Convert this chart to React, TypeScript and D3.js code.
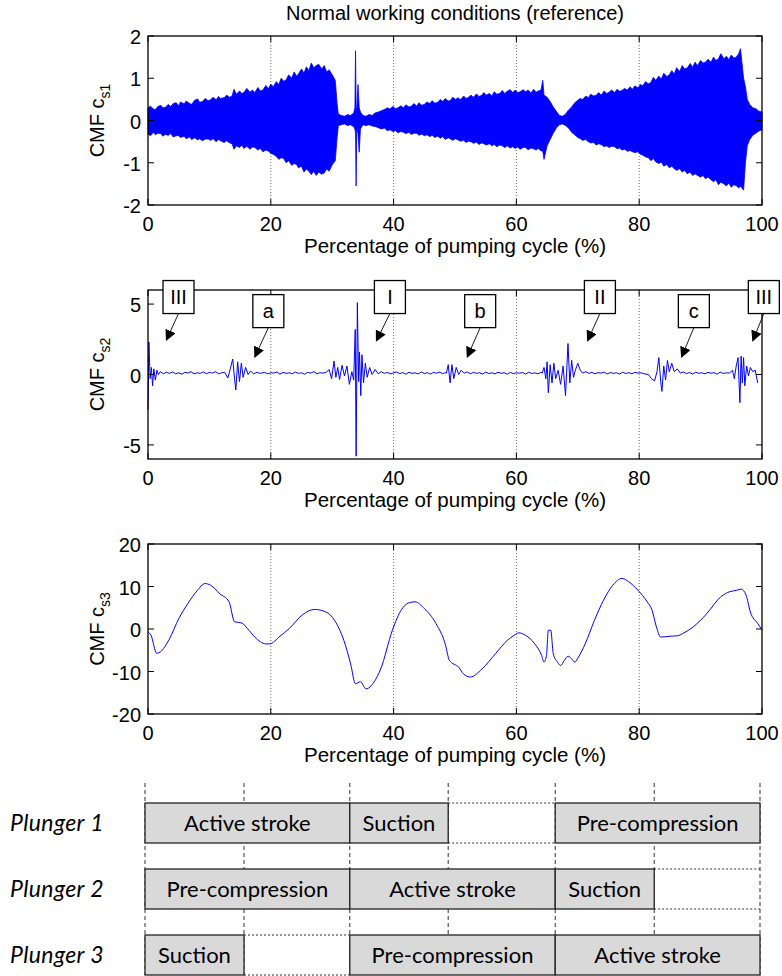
import React from "react";
import * as d3 from "d3";

// ---------- data ----------
const X_TICKS = [0, 20, 40, 60, 80, 100];
const X_GRID = [20, 40, 60, 80];

// c_s1: [position %, upper extent, lower extent] of the fast oscillation
const CS1_ENVELOPE: [number, number, number][] = [
  [0, 0.30, -0.32], [0.4, 0.34, -0.36], [0.9, 0.27, -0.28], [1.2, 0.26, -0.34], [1.6, 0.33, -0.30],
  [2.1, 0.36, -0.31], [2.4, 0.30, -0.37], [2.8, 0.31, -0.33], [3.3, 0.38, -0.35], [3.7, 0.33, -0.31],
  [4.1, 0.40, -0.39], [4.6, 0.42, -0.36], [5, 0.35, -0.36], [5.3, 0.44, -0.40], [5.9, 0.39, -0.37],
  [6.2, 0.46, -0.43], [6.8, 0.40, -0.39], [7.1, 0.38, -0.45], [7.6, 0.48, -0.41], [8.1, 0.51, -0.46],
  [8.4, 0.43, -0.43], [8.9, 0.45, -0.48], [9.3, 0.52, -0.44], [9.8, 0.47, -0.44], [10.2, 0.49, -0.47],
  [10.6, 0.55, -0.43], [11.1, 0.49, -0.50], [11.5, 0.57, -0.45], [11.8, 0.52, -0.48], [12.4, 0.54, -0.52],
  [12.8, 0.60, -0.48], [13.3, 0.55, -0.53], [13.7, 0.58, -0.55], [14, 0.74, -0.68], [14.4, 0.62, -0.60],
  [14.9, 0.70, -0.64], [15.3, 0.64, -0.58], [15.6, 0.66, -0.66], [16.1, 0.76, -0.61], [16.6, 0.67, -0.68],
  [17, 0.72, -0.63], [17.4, 0.66, -0.64], [17.9, 0.78, -0.70], [18.3, 0.70, -0.66], [18.7, 0.72, -0.74],
  [19.2, 0.83, -0.70], [19.6, 0.75, -0.72], [20, 0.86, -0.78], [20.4, 0.80, -0.80], [20.9, 0.92, -0.85],
  [21.3, 0.85, -0.92], [21.7, 1.00, -0.88], [22.1, 0.93, -0.90], [22.5, 0.96, -1.00], [22.9, 1.08, -0.95],
  [23.4, 1.00, -1.06], [23.8, 1.15, -1.02], [24.2, 1.05, -1.04], [24.5, 1.10, -1.12], [25, 1.22, -1.08],
  [25.4, 1.12, -1.22], [25.8, 1.27, -1.15], [26.2, 1.18, -1.20], [26.6, 1.36, -1.28], [27, 1.25, -1.20],
  [27.4, 1.30, -1.30], [27.8, 1.33, -1.22], [28.3, 1.22, -1.27], [28.7, 1.30, -1.24], [29.1, 1.15, -1.15],
  [29.5, 1.20, -1.20], [30, 1.08, -1.05], [30.5, 0.95, -0.95], [30.8, 0.40, -0.40], [31, 0.15, -0.12],
  [31.5, 0.12, -0.10], [32, 0.10, -0.08], [32.5, 0.14, -0.12], [33, 0.12, -0.10], [33.5, 0.18, -0.15],
  [33.7, 0.30, -0.20], [33.8, 1.65, -0.30], [33.9, 0.30, -1.55], [34.0, 0.20, -0.20], [34.2, 0.85, -0.30],
  [34.4, 0.30, -0.75], [34.6, 0.20, -0.20], [35, 0.12, -0.10], [35.5, 0.10, -0.12], [36, 0.14, -0.10],
  [36.5, 0.12, -0.13], [37, 0.18, -0.14], [37.5, 0.20, -0.17], [38, 0.23, -0.20], [38.5, 0.26, -0.18],
  [39, 0.30, -0.24], [39.4, 0.27, -0.22], [39.9, 0.33, -0.26], [40.3, 0.28, -0.24], [40.7, 0.30, -0.29],
  [41.2, 0.35, -0.26], [41.6, 0.30, -0.28], [42, 0.37, -0.31], [42.5, 0.32, -0.28], [42.9, 0.34, -0.33],
  [43.3, 0.40, -0.30], [43.8, 0.34, -0.30], [44.1, 0.42, -0.35], [44.6, 0.36, -0.32], [45, 0.38, -0.36],
  [45.4, 0.44, -0.34], [45.9, 0.40, -0.38], [46.3, 0.47, -0.35], [46.7, 0.41, -0.40], [47.2, 0.43, -0.37],
  [47.6, 0.50, -0.42], [48, 0.45, -0.38], [48.4, 0.52, -0.45], [48.9, 0.46, -0.41], [49.3, 0.48, -0.44],
  [49.6, 0.55, -0.47], [50.1, 0.50, -0.43], [50.5, 0.54, -0.46], [50.9, 0.49, -0.49], [51.4, 0.58, -0.47],
  [51.8, 0.52, -0.52], [52.2, 0.55, -0.49], [52.6, 0.60, -0.50], [53, 0.55, -0.54], [53.5, 0.63, -0.51],
  [53.9, 0.57, -0.57], [54.3, 0.59, -0.53], [54.7, 0.66, -0.55], [55.1, 0.60, -0.58], [55.6, 0.64, -0.55],
  [56, 0.58, -0.60], [56.4, 0.68, -0.57], [56.8, 0.62, -0.62], [57.3, 0.64, -0.58], [57.7, 0.71, -0.60],
  [58.1, 0.64, -0.64], [58.5, 0.69, -0.60], [59, 0.73, -0.65], [59.4, 0.66, -0.62], [59.8, 0.72, -0.66],
  [60.2, 0.66, -0.63], [60.6, 0.68, -0.68], [61.1, 0.73, -0.64], [61.5, 0.68, -0.64], [61.9, 0.72, -0.69],
  [62.4, 0.65, -0.65], [62.8, 0.74, -0.67], [63.2, 0.67, -0.70], [63.6, 0.70, -0.66], [64, 0.72, -0.72],
  [64.3, 0.95, -0.72], [64.5, 0.60, -0.92], [65, 0.55, -0.60], [65.5, 0.45, -0.45], [66, 0.32, -0.30],
  [66.5, 0.22, -0.18], [67, 0.12, -0.10], [67.5, 0.10, -0.08], [68, 0.15, -0.12], [68.5, 0.25, -0.18],
  [69, 0.32, -0.28], [69.5, 0.42, -0.34], [70, 0.48, -0.40], [70.4, 0.52, -0.43], [70.8, 0.50, -0.47],
  [71.3, 0.58, -0.45], [71.7, 0.54, -0.50], [72.1, 0.62, -0.53], [72.6, 0.58, -0.52], [73, 0.60, -0.58],
  [73.4, 0.66, -0.55], [73.8, 0.60, -0.57], [74.3, 0.70, -0.62], [74.7, 0.64, -0.60], [75.1, 0.67, -0.64],
  [75.5, 0.72, -0.61], [76, 0.66, -0.62], [76.4, 0.74, -0.67], [76.8, 0.69, -0.65], [77.2, 0.71, -0.70],
  [77.6, 0.76, -0.68], [78.1, 0.72, -0.73], [78.5, 0.80, -0.71], [78.9, 0.74, -0.74], [79.3, 0.82, -0.76],
  [79.8, 0.77, -0.74], [80.2, 0.85, -0.80], [80.6, 0.82, -0.82], [81, 0.92, -0.86], [81.5, 0.87, -0.88],
  [81.9, 0.90, -0.95], [82.3, 1.02, -0.90], [82.7, 0.95, -0.98], [83.2, 1.05, -1.02], [83.6, 0.98, -0.98],
  [84, 1.12, -1.08], [84.5, 1.04, -1.04], [84.9, 1.08, -1.12], [85.3, 1.18, -1.08], [85.7, 1.10, -1.14],
  [86.1, 1.25, -1.18], [86.6, 1.16, -1.14], [87, 1.30, -1.22], [87.4, 1.22, -1.18], [87.8, 1.24, -1.26],
  [88.3, 1.35, -1.22], [88.7, 1.26, -1.30], [89.1, 1.38, -1.26], [89.5, 1.30, -1.30], [90, 1.42, -1.34],
  [90.4, 1.36, -1.30], [90.8, 1.38, -1.38], [91.2, 1.45, -1.34], [91.7, 1.38, -1.40], [92.1, 1.50, -1.45],
  [92.5, 1.42, -1.40], [92.9, 1.46, -1.52], [93.3, 1.58, -1.46], [93.8, 1.46, -1.50], [94.2, 1.52, -1.55],
  [94.6, 1.44, -1.48], [95, 1.55, -1.58], [95.4, 1.48, -1.52], [95.8, 1.50, -1.54], [96.2, 1.58, -1.60],
  [96.5, 1.70, -1.55], [97, 1.00, -1.65], [97.3, 0.80, -1.00], [97.6, 0.50, -0.60], [98, 0.38, -0.45],
  [98.5, 0.30, -0.35], [99, 0.28, -0.30], [99.5, 0.22, -0.25], [100, 0.20, -0.22],
];

// c_s2 trace
const CS2_X = [0, 0.15, 0.35, 0.55, 0.75, 0.95, 1.2, 1.45, 1.7, 2, 2.5, 3, 3.5, 4, 4.5, 5, 5.5, 6, 6.5, 7, 7.5, 8, 8.5, 9, 9.5, 10, 10.5, 11, 11.5, 12, 12.5, 13, 13.4, 13.8, 14.1, 14.3, 14.6, 14.9, 15.2, 15.5, 15.9, 16.3, 16.7, 17.2, 17.7, 18.3, 19, 19.5, 20, 20.5, 21, 21.5, 22, 22.5, 23, 23.5, 24, 24.5, 25, 25.5, 26, 26.5, 27, 27.5, 28, 28.5, 29, 29.5, 29.9, 30.3, 30.6, 30.9, 31.2, 31.6, 32, 32.4, 32.8, 33.2, 33.5, 33.75, 33.9, 34.1, 34.3, 34.45, 34.65, 34.85, 35.1, 35.4, 35.7, 36.1, 36.5, 37, 37.5, 38, 38.5, 39, 39.5, 40, 40.5, 41, 41.5, 42, 42.5, 43, 43.5, 44, 44.5, 45, 45.5, 46, 46.5, 47, 47.5, 48, 48.3, 48.6, 48.9, 49.2, 49.5, 49.8, 50.2, 50.6, 51, 51.5, 52, 52.5, 53, 53.5, 54, 54.5, 55, 55.5, 56, 56.5, 57, 57.5, 58, 58.5, 59, 59.5, 60, 60.5, 61, 61.5, 62, 62.5, 63, 63.5, 64, 64.2, 64.5, 64.8, 65, 65.2, 65.5, 65.8, 66.1, 66.4, 66.8, 67.2, 67.6, 68, 68.4, 68.7, 69, 69.3, 69.6, 70, 70.4, 70.8, 71.3, 71.8, 72.3, 72.8, 73.3, 73.8, 74.3, 74.8, 75.3, 75.8, 76.3, 76.8, 77.3, 77.8, 78.3, 78.8, 79.3, 79.8, 80.3, 80.8, 81.5, 82, 82.5, 82.9, 83.2, 83.5, 83.7, 84, 84.3, 84.6, 84.9, 85.3, 85.7, 86.2, 86.7, 87.2, 87.7, 88.2, 88.7, 89.2, 89.7, 90.2, 90.7, 91.2, 91.7, 92.2, 92.7, 93.2, 93.7, 94.2, 94.7, 95.2, 95.5, 95.8, 96.1, 96.4, 96.6, 96.8, 97, 97.2, 97.5, 97.8, 98.1, 98.5, 98.9, 99.3, 99.7, 100];
const CS2_Y = [-2.5, 2.3, -0.3, 0.5, -0.8, 0.4, -0.4, 0.3, 0, 0.2, 0.05, 0.15, 0.08, 0.18, 0.05, 0.12, 0.02, 0.15, 0.1, 0.2, 0.05, 0.12, 0.08, 0.18, 0.05, 0.15, 0.1, 0.2, 0.05, 0.12, 0.15, -0.25, 0.4, 1.1, -0.3, -1.1, 0.9, -0.5, 0.8, -0.2, 0.5, 0, 0.25, 0.05, 0.15, 0.08, 0.15, 0.05, 0.12, 0.1, 0.18, 0.02, 0.15, 0.08, 0.12, 0.05, 0.18, 0.08, 0.12, 0.02, 0.15, 0.1, 0.2, 0.05, 0.12, 0.1, 0.15, 0.35, -0.3, 0.95, -0.2, 0.5, -0.35, 0.65, -0.1, 0.6, -0.7, 0.2, -0.4, 3.2, -5.8, 5.1, -0.5, 1.6, -1.5, 1.4, -0.6, 0.8, -0.2, 0.5, 0, 0.35, 0.05, 0.2, 0.08, 0.15, 0.05, 0.12, 0.18, 0.06, 0.14, 0.02, 0.16, 0.08, 0.12, 0.04, 0.18, 0.07, 0.13, 0.03, 0.15, 0.09, 0.17, 0.05, 0.12, 0.1, 0.7, -0.6, 0.7, -0.3, 0.5, 0, 0.3, 0.1, 0.18, 0.05, 0.15, 0.08, 0.13, 0.03, 0.17, 0.07, 0.12, 0.04, 0.16, 0.08, 0.13, 0.02, 0.15, 0.06, 0.12, 0.09, 0.14, 0.03, 0.16, 0.07, 0.12, 0.05, 0.15, 0.1, 0.5, -0.3, 0.9, -1.3, 0.7, -0.6, 0.8, -0.3, 0.3, -0.7, 0.6, -1.5, 2.2, -0.6, 1, -0.2, 0.3, 0.8, 0.3, 0.1, 0.2, 0.08, 0.15, 0.05, 0.13, 0.1, 0.17, 0.04, 0.14, 0.08, 0.12, 0.03, 0.16, 0.07, 0.13, 0.05, 0.15, 0.1, 0.12, 0.05, 0, -0.3, -0.45, 0.2, 1.2, -0.5, -1.2, 0.6, -0.4, 1, 0.2, 0.8, 0.2, 0.4, 0.1, 0.18, 0.06, 0.14, 0.03, 0.16, 0.08, 0.12, 0.05, 0.15, 0.09, 0.13, 0.02, 0.17, 0.07, 0.12, 0.1, 0.3, -0.3, 0.6, 1.2, -2, 1.3, -0.6, 1.2, -0.8, 0.6, -0.1, 0.5, 0.2, 0.3, -0.6];

// c_s3 trace
const CS3_X = [0, 0.5, 1.4, 2, 3.5, 5, 6.5, 8, 9.3, 10.2, 11.7, 13.2, 14.1, 15.3, 16.2, 17.4, 19.2, 19.8, 21.5, 23, 25.2, 27.1, 29, 30.4, 31.9, 33, 33.8, 34.6, 35.5, 36.8, 37.9, 39.8, 41.3, 42.4, 43.5, 45, 46.9, 48.4, 49.1, 50.6, 51.4, 52.5, 54.4, 56.6, 58.5, 59.6, 60.4, 61.5, 63, 64.1, 64.5, 64.9, 65.2, 65.6, 66, 66.7, 67.2, 67.8, 68.4, 69, 69.5, 70.1, 71.2, 72.7, 74.2, 75.7, 77.2, 78.3, 79.8, 81.3, 82.1, 82.8, 83.5, 85, 86.2, 87.3, 88.8, 91, 93.3, 94.8, 95.9, 96.6, 97.4, 98.1, 99.3, 100];
const CS3_Y = [-0.7, -1.5, -5.7, -5.4, -2.3, 2.4, 6, 9, 10.7, 10.3, 8.3, 6.4, 1.7, 1.4, 0.1, -1.9, -3.5, -3.5, -1.7, 0.1, 3.4, 4.6, 4, 2, -2.7, -8.2, -12.9, -12.4, -14.1, -12.5, -9.4, -0.3, 4.6, 6.1, 6.4, 4.8, 1.3, -3.5, -7.4, -9, -10.6, -11.3, -9.4, -5.8, -2.7, -1.5, -0.9, -1.5, -3.5, -6.2, -7.8, -6.2, -0.3, -0.3, -5.8, -7.8, -8.6, -7.4, -6.4, -7, -7.8, -6.6, -3.5, 2, 6.8, 10.3, 11.9, 11.1, 9.1, 6.4, 4.4, 0.5, -1.9, -1.7, -1.6, -0.9, 0.5, 3.6, 7.6, 8.8, 9.1, 9.4, 8, 4, 1.3, -0.2];

// event markers on c_s2
const MARK_LABELS = ["III", "a", "I", "b", "II", "c", "III"];
const MARK_BOX_X = [4.97, 19.6, 39.4, 54.1, 73.6, 88.9, 100.3];
const MARK_BOX_Y = [5.5, 4.5, 5.5, 4.5, 5.5, 4.5, 5.5];
const MARK_TIP_X = [3.0, 17.4, 37.2, 52.0, 71.6, 86.9, 98.5];
const MARK_TIP_Y = [2.45, 1.24, 2.39, 1.24, 2.39, 1.24, 2.39];

// plunger timing diagram
const PHASE_BOUNDS = [0, 16.1, 33.3, 49.3, 66.7, 82.8, 100];
const PLUNGERS = ["Plunger 1", "Plunger 2", "Plunger 3"];
const PHASE_LABELS = [
  ["Active stroke", "Suction", "Pre-compression"],
  ["Pre-compression", "Active stroke", "Suction"],
  ["Suction", "Pre-compression", "Active stroke"],
];
const PHASE_FROM = [
  [0, 33.3, 66.7],
  [0, 33.3, 66.7],
  [0, 33.3, 66.7],
];
const PHASE_TO = [
  [33.3, 49.3, 100],
  [33.3, 66.7, 82.8],
  [16.1, 66.7, 100],
];
const IDLE_FROM = [49.3, 82.8, 16.1];
const IDLE_TO = [66.7, 100, 33.3];

// ---------- layout ----------
const W = 782;
const H = 976;
const PX0 = 148;
const PX1 = 762;
const AXIS_FONT = "'Liberation Sans', Arial, sans-serif";
const DIAG_FONT = "Lato, 'Open Sans', sans-serif";
const BLUE = "#0000ff";

const xScale = d3.scaleLinear().domain([0, 100]).range([PX0, PX1]);

type PanelProps = {
  top: number;
  bottom: number;
  yDomain: [number, number];
  yTicks: number[];
  sub: string;
  children: (y: d3.ScaleLinear<number, number>) => React.ReactNode;
  overlay?: (y: d3.ScaleLinear<number, number>) => React.ReactNode;
};

function Panel({ top, bottom, yDomain, yTicks, sub, children, overlay }: PanelProps) {
  const y = d3.scaleLinear().domain(yDomain).range([bottom, top]);
  const tick = 6;
  const midY = (top + bottom) / 2;
  return (
    <g>
      {X_GRID.map((v) => (
        <line key={"g" + v} x1={xScale(v)} x2={xScale(v)} y1={top} y2={bottom}
          stroke="#444" strokeWidth={0.8} strokeDasharray="1,2" />
      ))}
      {children(y)}
      <rect x={PX0} y={top} width={PX1 - PX0} height={bottom - top} fill="none" stroke="#000" strokeWidth={1.3} />
      {X_TICKS.map((v) => (
        <g key={"xt" + v}>
          <line x1={xScale(v)} x2={xScale(v)} y1={bottom} y2={bottom - tick} stroke="#000" />
          <line x1={xScale(v)} x2={xScale(v)} y1={top} y2={top + tick} stroke="#000" />
          <text x={xScale(v)} y={bottom + 26} textAnchor="middle" fontSize={20} fontFamily={AXIS_FONT}>{v}</text>
        </g>
      ))}
      {yTicks.map((v) => (
        <g key={"yt" + v}>
          <line x1={PX0} x2={PX0 + tick} y1={y(v)} y2={y(v)} stroke="#000" />
          <line x1={PX1} x2={PX1 - tick} y1={y(v)} y2={y(v)} stroke="#000" />
          <text x={141} y={y(v) + 8} textAnchor="end" fontSize={20} fontFamily={AXIS_FONT}>{String(v)}</text>
        </g>
      ))}
      <text x={(PX0 + PX1) / 2} y={bottom + 48} textAnchor="middle" fontSize={20.5} fontFamily={AXIS_FONT}>
        Percentage of pumping cycle (%)
      </text>
      <text transform={`translate(104,${midY}) rotate(-90)`} textAnchor="middle" fontSize={20} fontFamily={AXIS_FONT}>
        CMF c<tspan fontSize={14} dy={6}>{sub}</tspan>
      </text>
      {overlay && overlay(y)}
    </g>
  );
}

export default function App() {
  const idx2 = d3.range(CS2_X.length);
  const idx3 = d3.range(CS3_X.length);

  const diagX = d3.scaleLinear().domain([0, 100]).range([145, 760]);
  const rowY = d3.scaleBand<string>().domain(PLUNGERS).range([803, 975]).paddingInner(26 / 66).paddingOuter(0);
  const bh = rowY.bandwidth();

  return (
    <svg width={W} height={H} viewBox={`0 0 ${W} ${H}`}
      style={{ position: "absolute", left: 0, top: 0, background: "#fff" }}>
      <rect width={W} height={H} fill="#fff" />
      <text x={455} y={20} textAnchor="middle" fontSize={20} fontFamily={AXIS_FONT}>
        Normal working conditions (reference)
      </text>

      <Panel top={36} bottom={205} yDomain={[-2, 2]} yTicks={[-2, -1, 0, 1, 2]} sub="s1">
        {(y) => {
          const area = d3.area<[number, number, number]>()
            .x((d) => xScale(d[0]))
            .y0((d) => y(d[2]))
            .y1((d) => y(d[1]));
          return <path d={area(CS1_ENVELOPE) || ""} fill={BLUE} stroke={BLUE} strokeWidth={0.8} />;
        }}
      </Panel>

      <Panel top={290} bottom={459} yDomain={[-6, 6]} yTicks={[-5, 0, 5]} sub="s2"
        overlay={(y) => (
          <g>
            <defs>
              <marker id="arrowHead" viewBox="0 0 10 10" refX={9} refY={5} markerWidth={11} markerHeight={11}
                markerUnits="userSpaceOnUse" orient="auto">
                <path d="M0,0 L10,5 L0,10 z" fill="#000" />
              </marker>
            </defs>
            {MARK_LABELS.map((lab, i) => {
              const cx = xScale(MARK_BOX_X[i]);
              const cy = y(MARK_BOX_Y[i]);
              const bw = 31;
              const bhh = 33;
              return (
                <g key={"m" + i}>
                  <line x1={cx} y1={cy + bhh / 2} x2={xScale(MARK_TIP_X[i])} y2={y(MARK_TIP_Y[i])}
                    stroke="#000" strokeWidth={0.9} markerEnd="url(#arrowHead)" />
                  <rect x={cx - bw / 2} y={cy - bhh / 2} width={bw} height={bhh} fill="#fff" stroke="#000" strokeWidth={1.3} />
                  <text x={cx} y={cy + 7} textAnchor="middle" fontSize={20} fontFamily={AXIS_FONT}>{lab}</text>
                </g>
              );
            })}
          </g>
        )}>
        {(y) => {
          const line = d3.line<number>().x((i) => xScale(CS2_X[i])).y((i) => y(CS2_Y[i]));
          return <path d={line(idx2) || ""} fill="none" stroke={BLUE} strokeWidth={1} />;
        }}
      </Panel>

      <Panel top={544} bottom={714} yDomain={[-20, 20]} yTicks={[-20, -10, 0, 10, 20]} sub="s3">
        {(y) => {
          const line = d3.line<number>().x((i) => xScale(CS3_X[i])).y((i) => y(CS3_Y[i])).curve(d3.curveMonotoneX);
          return <path d={line(idx3) || ""} fill="none" stroke={BLUE} strokeWidth={1} />;
        }}
      </Panel>

      {/* plunger timing diagram */}
      <g>
        {PHASE_BOUNDS.map((b, i) => (
          <line key={"pb" + i} x1={diagX(b)} x2={diagX(b)} y1={783} y2={975}
            stroke="#333" strokeWidth={1} strokeDasharray="4,3" />
        ))}
        {PLUNGERS.map((p, r) => {
          const top = rowY(p) as number;
          return (
            <g key={p}>
              <line x1={diagX(IDLE_FROM[r])} x2={diagX(IDLE_TO[r])} y1={top} y2={top}
                stroke="#333" strokeWidth={1} strokeDasharray="2,2" />
              <line x1={diagX(IDLE_FROM[r])} x2={diagX(IDLE_TO[r])} y1={top + bh} y2={top + bh}
                stroke="#333" strokeWidth={1} strokeDasharray="2,2" />
              {PHASE_LABELS[r].map((lab, k) => {
                const x0 = diagX(PHASE_FROM[r][k]);
                const x1 = diagX(PHASE_TO[r][k]);
                return (
                  <g key={lab}>
                    <rect x={x0} y={top} width={x1 - x0} height={bh} fill="#d9d9d9" stroke="#222" strokeWidth={1.3} />
                    <text x={(x0 + x1) / 2} y={top + bh / 2 + 7.5} textAnchor="middle" fontSize={22} fontFamily={DIAG_FONT}>{lab}</text>
                  </g>
                );
              })}
              <text x={10} y={top + bh / 2 + 7.5} fontSize={23} letterSpacing={0.4} fontStyle="italic" fontFamily={DIAG_FONT}>{p}</text>
            </g>
          );
        })}
      </g>
    </svg>
  );
}
